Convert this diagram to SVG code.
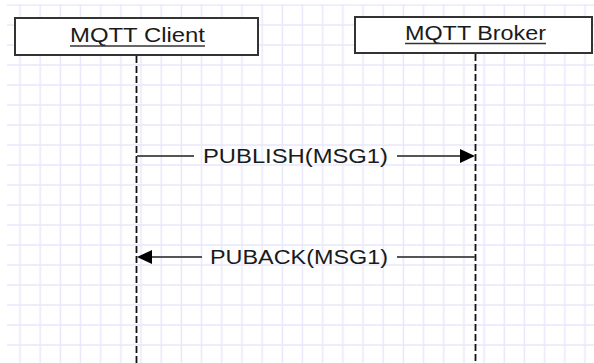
<svg xmlns="http://www.w3.org/2000/svg" width="594" height="363" viewBox="0 0 594 363">
<style>
.box{fill:#ffffff;stroke:#333333;stroke-width:2}
.hdr{font-family:"Liberation Sans",Arial,sans-serif;font-size:19.5px;fill:#1a1a1a}
.msg{font-family:"Liberation Sans",Arial,sans-serif;font-size:19.5px;fill:#1a1a1a}
.ul{stroke:#333333;stroke-width:1.5}
.life{stroke:#111111;stroke-width:1.8;stroke-dasharray:7 3;fill:none}
.conn{stroke:#555555;stroke-width:2;fill:none}
.head{fill:#000000}
</style>
<defs>
<pattern id="grid" patternUnits="userSpaceOnUse" x="10" y="-5" width="20.18" height="20">
<path d="M10 0V20M0 10H20.18" stroke="#e8e8fc" stroke-width="1.5" fill="none"/>
</pattern>
</defs>
<rect x="0" y="0" width="594" height="363" fill="#ffffff"/>
<rect x="7" y="4.2" width="587" height="358.8" fill="url(#grid)"/>
<g id="client">
<rect class="box" x="15" y="18" width="243" height="37"/>
<text class="hdr" x="70" y="42" textLength="135" lengthAdjust="spacingAndGlyphs">MQTT Client</text>
<line class="ul" x1="70" y1="46" x2="205" y2="46"/>
<line class="life" x1="136.5" y1="56" x2="136.5" y2="363"/>
</g>
<g id="broker">
<rect class="box" x="355" y="17" width="237" height="36"/>
<text class="hdr" x="405" y="40" textLength="141" lengthAdjust="spacingAndGlyphs">MQTT Broker</text>
<line class="ul" x1="405" y1="43.5" x2="546" y2="43.5"/>
<line class="life" x1="475.5" y1="54" x2="475.5" y2="363"/>
</g>
<g id="connectors">
<g id="publish">
<line class="conn" x1="137" y1="156" x2="194" y2="156"/>
<line class="conn" x1="397" y1="156" x2="462" y2="156"/>
<polygon class="head" points="475,156 460,149 460,163"/>
<text class="msg" x="203" y="163" textLength="185" lengthAdjust="spacingAndGlyphs">PUBLISH(MSG1)</text>
</g>
<g id="puback">
<line class="conn" x1="150" y1="257" x2="202" y2="257"/>
<line class="conn" x1="397" y1="257" x2="475" y2="257"/>
<polygon class="head" points="137,257 152,250 152,264"/>
<text class="msg" x="210" y="264" textLength="178" lengthAdjust="spacingAndGlyphs">PUBACK(MSG1)</text>
</g>
</g>
</svg>
